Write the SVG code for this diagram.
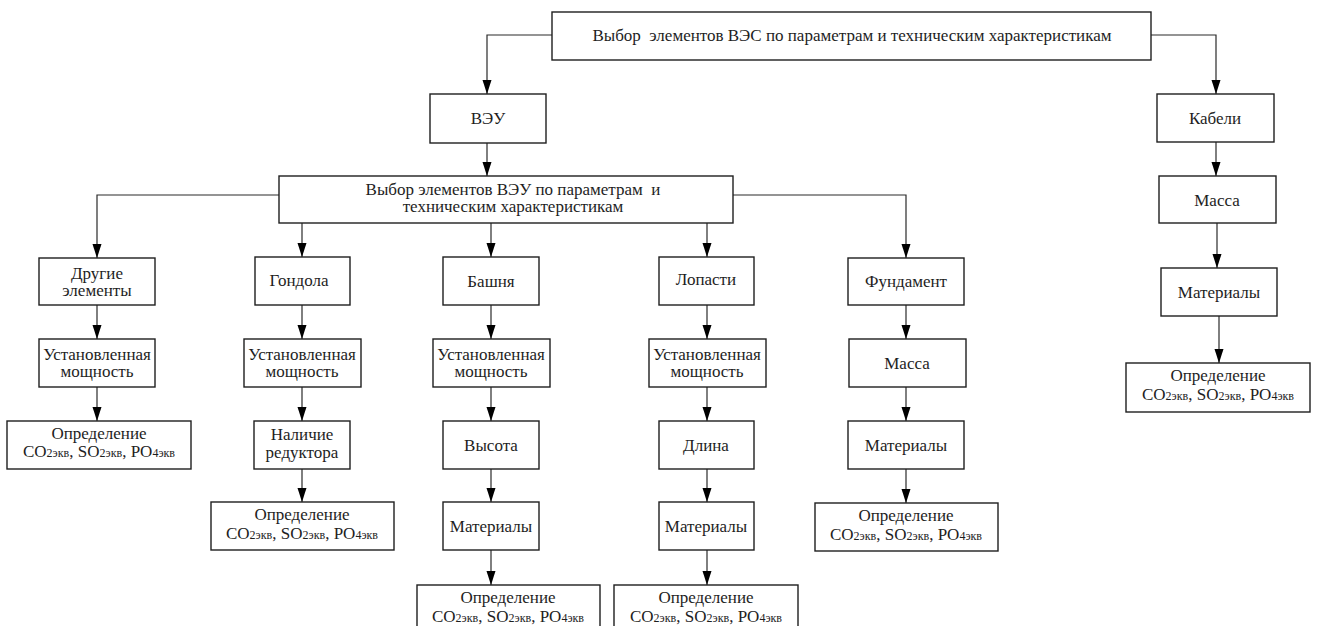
<svg xmlns="http://www.w3.org/2000/svg" width="1317" height="626" viewBox="0 0 1317 626">
<style>
.box{fill:#fff;stroke:#1e1e1e;stroke-width:1.4}
.t{font-family:"Liberation Serif","Times New Roman",serif;font-size:17px;fill:#1e1e1e;text-anchor:middle}
.sub{font-size:12px}
.pre{white-space:pre}
.c{fill:none;stroke:#2a2a2a;stroke-width:1.2}
</style>
<defs>
<marker id="ar" markerUnits="userSpaceOnUse" markerWidth="14" markerHeight="10" refX="14" refY="4.5" orient="auto">
<path d="M0,0 L14,4.5 L0,9 Z" fill="#000"/>
</marker>
</defs>
<rect width="1317" height="626" fill="#fff"/>
<g id="connectors">
<path class="c" d="M552,35 H487 V94" marker-end="url(#ar)"/>
<path class="c" d="M1151,35 H1216 V94" marker-end="url(#ar)"/>
<path class="c" d="M487,143 V176" marker-end="url(#ar)"/>
<path class="c" d="M279,195 H97 V258" marker-end="url(#ar)"/>
<path class="c" d="M733,195 H906 V258" marker-end="url(#ar)"/>
<path class="c" d="M302,223 V257" marker-end="url(#ar)"/>
<path class="c" d="M491,223 V257" marker-end="url(#ar)"/>
<path class="c" d="M707,223 V257" marker-end="url(#ar)"/>
<path class="c" d="M97,305 V339" marker-end="url(#ar)"/>
<path class="c" d="M97,387 V421" marker-end="url(#ar)"/>
<path class="c" d="M302,305 V339" marker-end="url(#ar)"/>
<path class="c" d="M302,387 V421" marker-end="url(#ar)"/>
<path class="c" d="M302,469 V502" marker-end="url(#ar)"/>
<path class="c" d="M491,305 V339" marker-end="url(#ar)"/>
<path class="c" d="M491,387 V421" marker-end="url(#ar)"/>
<path class="c" d="M491,469 V502" marker-end="url(#ar)"/>
<path class="c" d="M491,550 V585" marker-end="url(#ar)"/>
<path class="c" d="M707,305 V339" marker-end="url(#ar)"/>
<path class="c" d="M707,387 V421" marker-end="url(#ar)"/>
<path class="c" d="M707,469 V502" marker-end="url(#ar)"/>
<path class="c" d="M707,550 V585" marker-end="url(#ar)"/>
<path class="c" d="M906,305 V339" marker-end="url(#ar)"/>
<path class="c" d="M906,387 V421" marker-end="url(#ar)"/>
<path class="c" d="M906,469 V503" marker-end="url(#ar)"/>
<path class="c" d="M1216,142 V176" marker-end="url(#ar)"/>
<path class="c" d="M1217,223 V268" marker-end="url(#ar)"/>
<path class="c" d="M1219,316 V363" marker-end="url(#ar)"/>
</g>
<g id="n-top"><rect class="box" x="552" y="12" width="599" height="48"/><text class="t pre" x="852" y="41">Выбор  элементов ВЭС по параметрам и техническим характеристикам</text></g>
<g id="n-veu"><rect class="box" x="430" y="94" width="116" height="49"/><text class="t" x="488" y="124">ВЭУ</text></g>
<g id="n-cables"><rect class="box" x="1157" y="94" width="117" height="48"/><text class="t" x="1215" y="124">Кабели</text></g>
<g id="n-sel2"><rect class="box" x="279" y="176" width="454" height="47"/><text class="t pre" x="513" y="195">Выбор элементов ВЭУ по параметрам  и</text><text class="t" x="513" y="212">техническим характеристикам</text></g>

<g id="n-other"><rect class="box" x="39" y="258" width="116" height="47"/><text class="t" x="97" y="279">Другие</text><text class="t" x="97" y="296">элементы</text></g>
<g id="n-other-p"><rect class="box" x="39" y="339" width="116" height="48"/><text class="t" x="97" y="360">Установленная</text><text class="t" x="97" y="377">мощность</text></g>
<g id="n-other-d"><rect class="box" x="7" y="421" width="184" height="48"/><text class="t" x="99" y="439">Определение</text><text class="t" x="99" y="457">CO<tspan class="sub">2экв</tspan>, SO<tspan class="sub">2экв</tspan>, PO<tspan class="sub">4экв</tspan></text></g>

<g id="n-gond"><rect class="box" x="255" y="257" width="95" height="48"/><text class="t" x="299" y="286">Гондола</text></g>
<g id="n-gond-p"><rect class="box" x="244" y="339" width="117" height="48"/><text class="t" x="302" y="360">Установленная</text><text class="t" x="302" y="377">мощность</text></g>
<g id="n-gond-r"><rect class="box" x="254" y="421" width="96" height="48"/><text class="t" x="302" y="440">Наличие</text><text class="t" x="302" y="458">редуктора</text></g>
<g id="n-gond-d"><rect class="box" x="211" y="502" width="183" height="48"/><text class="t" x="302" y="520">Определение</text><text class="t" x="302" y="539">CO<tspan class="sub">2экв</tspan>, SO<tspan class="sub">2экв</tspan>, PO<tspan class="sub">4экв</tspan></text></g>

<g id="n-tower"><rect class="box" x="443" y="257" width="96" height="48"/><text class="t" x="491" y="287">Башня</text></g>
<g id="n-tower-p"><rect class="box" x="433" y="339" width="117" height="48"/><text class="t" x="491" y="360">Установленная</text><text class="t" x="491" y="377">мощность</text></g>
<g id="n-tower-h"><rect class="box" x="443" y="421" width="96" height="48"/><text class="t" x="491" y="451">Высота</text></g>
<g id="n-tower-m"><rect class="box" x="443" y="502" width="96" height="48"/><text class="t" x="491" y="532">Материалы</text></g>
<g id="n-tower-d"><rect class="box" x="417" y="585" width="183" height="48"/><text class="t" x="508" y="603">Определение</text><text class="t" x="508" y="622">CO<tspan class="sub">2экв</tspan>, SO<tspan class="sub">2экв</tspan>, PO<tspan class="sub">4экв</tspan></text></g>

<g id="n-blade"><rect class="box" x="659" y="257" width="95" height="48"/><text class="t" x="706" y="285">Лопасти</text></g>
<g id="n-blade-p"><rect class="box" x="649" y="339" width="117" height="48"/><text class="t" x="707" y="360">Установленная</text><text class="t" x="707" y="377">мощность</text></g>
<g id="n-blade-l"><rect class="box" x="659" y="421" width="95" height="48"/><text class="t" x="706" y="451">Длина</text></g>
<g id="n-blade-m"><rect class="box" x="659" y="502" width="95" height="48"/><text class="t" x="706" y="532">Материалы</text></g>
<g id="n-blade-d"><rect class="box" x="614" y="585" width="184" height="48"/><text class="t" x="706" y="603">Определение</text><text class="t" x="706" y="622">CO<tspan class="sub">2экв</tspan>, SO<tspan class="sub">2экв</tspan>, PO<tspan class="sub">4экв</tspan></text></g>

<g id="n-found"><rect class="box" x="848" y="258" width="116" height="47"/><text class="t" x="906" y="287">Фундамент</text></g>
<g id="n-found-m"><rect class="box" x="849" y="339" width="117" height="48"/><text class="t" x="907" y="369">Масса</text></g>
<g id="n-found-mat"><rect class="box" x="848" y="421" width="116" height="48"/><text class="t" x="906" y="451">Материалы</text></g>
<g id="n-found-d"><rect class="box" x="815" y="503" width="183" height="48"/><text class="t" x="906" y="521">Определение</text><text class="t" x="906" y="540">CO<tspan class="sub">2экв</tspan>, SO<tspan class="sub">2экв</tspan>, PO<tspan class="sub">4экв</tspan></text></g>

<g id="n-cab-m"><rect class="box" x="1159" y="176" width="117" height="47"/><text class="t" x="1217" y="206">Масса</text></g>
<g id="n-cab-mat"><rect class="box" x="1161" y="268" width="116" height="48"/><text class="t" x="1219" y="298">Материалы</text></g>
<g id="n-cab-d"><rect class="box" x="1126" y="363" width="184" height="49"/><text class="t" x="1218" y="381">Определение</text><text class="t" x="1218" y="400">CO<tspan class="sub">2экв</tspan>, SO<tspan class="sub">2экв</tspan>, PO<tspan class="sub">4экв</tspan></text></g>
</svg>
